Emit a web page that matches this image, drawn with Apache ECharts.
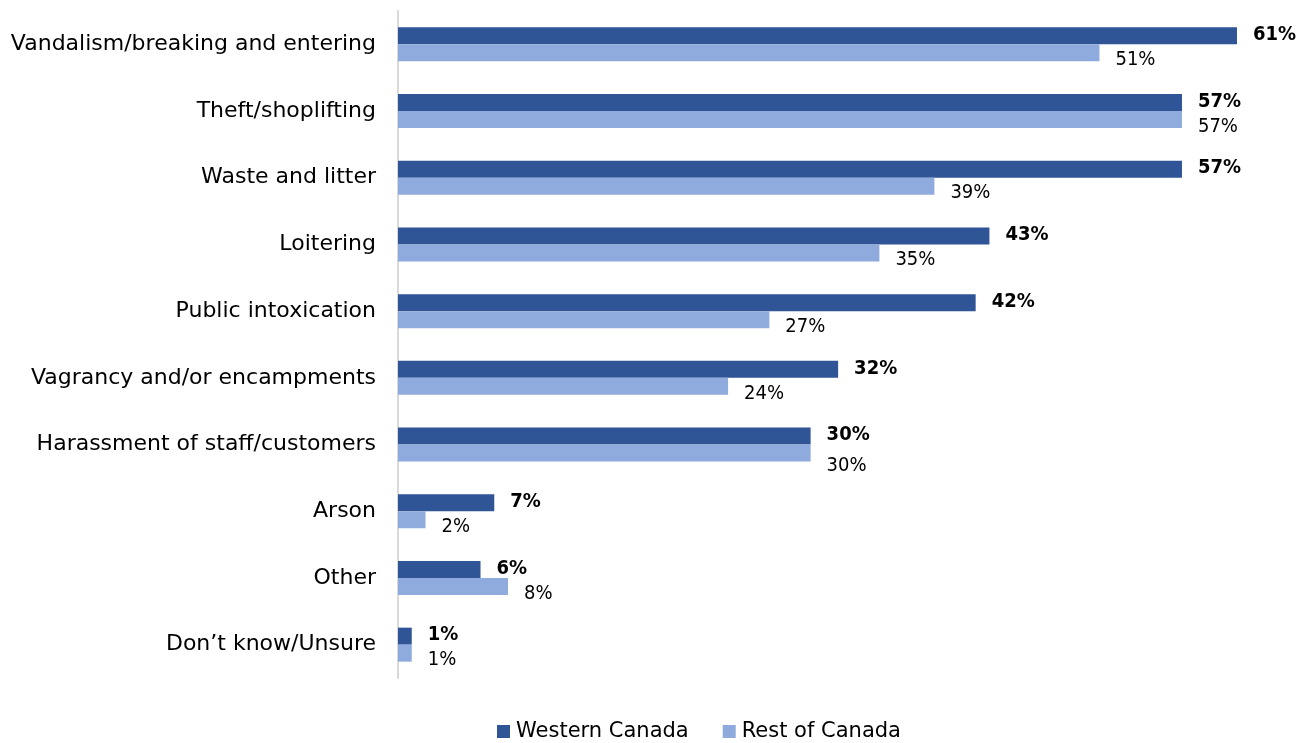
<!DOCTYPE html>
<html>
<head>
<meta charset="utf-8">
<script src="https://cdn.jsdelivr.net/npm/echarts@6/dist/echarts.min.js"></script>
<style>
  html, body { margin: 0; padding: 0; background: #fff; }
  #chart { width: 1312px; height: 743px; }
</style>
</head>
<body>
<div id="chart"></div>
<script>
// Issues reported by businesses, by region (percent)
const categories = [
  'Vandalism/breaking and entering',
  'Theft/shoplifting',
  'Waste and litter',
  'Loitering',
  'Public intoxication',
  'Vagrancy and/or encampments',
  'Harassment of staff/customers',
  'Arson',
  'Other',
  'Don\u2019t know/Unsure'
];
const westernCanada = [61, 57, 57, 43, 42, 32, 30, 7, 6, 1];
const restOfCanada = [51, 57, 39, 35, 27, 24, 30, 2, 8, 1];
const seriesNames = ['Western Canada', 'Rest of Canada'];

const FONT = 'DejaVu Sans';
const VALUE_FONT = 'DejaVu Sans Condensed';

// Rows whose lower label sits a little further down, clear of the label above it
const loweredLabelRows = ['Harassment of staff/customers'];
const restData = restOfCanada.map((v, i) =>
  loweredLabelRows.includes(categories[i]) ? { value: v, label: { offset: [0, 13] } } : v
);

const chart = echarts.init(document.getElementById('chart'), null, { renderer: 'canvas' });

chart.setOption({
  animation: false,
  backgroundColor: '#ffffff',
  textStyle: { fontFamily: FONT },
  grid: { left: 398, top: 11, width: 894, bottom: 65, containLabel: false },
  legend: {
    top: 716,
    left: 492,
    itemWidth: 13,
    itemHeight: 13,
    itemGap: 34,
    icon: 'rect',
    textStyle: { fontFamily: FONT, fontSize: 21, color: '#000', padding: [0, 0, 0, 1] },
    data: seriesNames
  },
  xAxis: {
    type: 'value',
    min: 0,
    max: 65,
    show: false
  },
  yAxis: {
    type: 'category',
    inverse: true,
    data: categories,
    axisLine: { show: true, lineStyle: { color: '#d9d9d9', width: 2 } },
    axisTick: { show: false },
    axisLabel: { fontFamily: FONT, fontSize: 22, color: '#000', margin: 22 }
  },
  series: [
    {
      name: seriesNames[0],
      type: 'bar',
      data: westernCanada,
      barWidth: 17,
      barGap: '0%',
      itemStyle: { color: '#2F5597' },
      label: {
        show: true,
        position: 'right',
        distance: 16,
        offset: [0, -1],
        formatter: '{c}%',
        fontFamily: VALUE_FONT,
        fontSize: 20,
        fontWeight: 'bold',
        color: '#000'
      }
    },
    {
      name: seriesNames[1],
      type: 'bar',
      data: restData,
      barWidth: 17,
      barGap: '0%',
      itemStyle: { color: '#8FAADC' },
      label: {
        show: true,
        position: 'right',
        distance: 16,
        offset: [0, 7],
        formatter: '{c}%',
        fontFamily: VALUE_FONT,
        fontSize: 20,
        color: '#000'
      }
    }
  ]
});
</script>
</body>
</html>
